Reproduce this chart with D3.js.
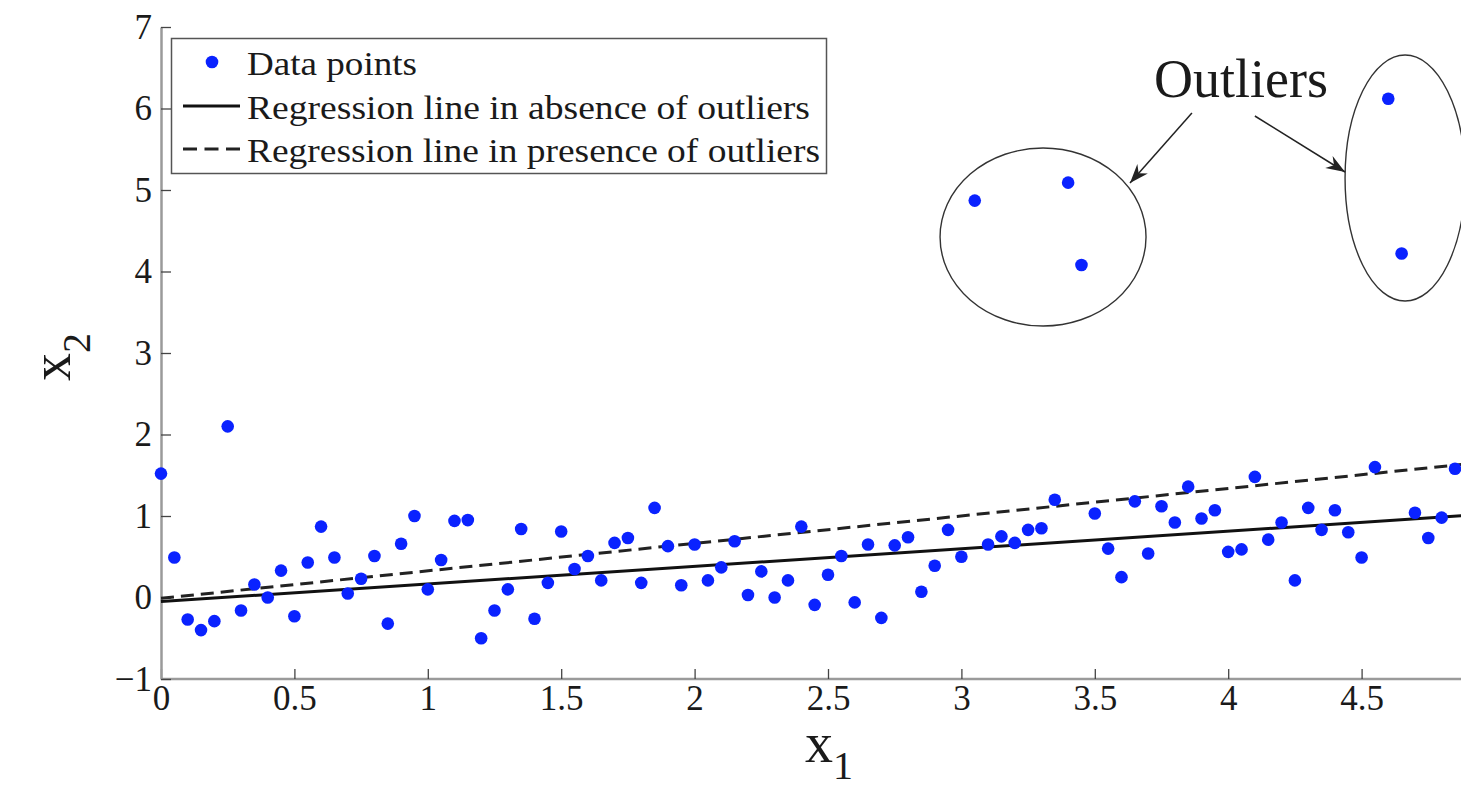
<!DOCTYPE html>
<html><head><meta charset="utf-8">
<script src="https://cdn.jsdelivr.net/npm/d3@7"></script>
<style>
html,body{margin:0;padding:0;background:#fff;overflow:hidden;}
text{font-family:"Liberation Serif","Times New Roman",serif;fill:#1a1a1a;}
</style></head>
<body><svg id="chart" width="1461" height="793"></svg>
<script>
// ---- data ----
const x1Values = [0.00,0.05,0.10,0.15,0.20,0.25,0.30,0.35,0.40,0.45,0.50,0.55,0.60,0.65,0.70,0.75,0.80,0.85,0.90,0.95,
  1.00,1.05,1.10,1.15,1.20,1.25,1.30,1.35,1.40,1.45,1.50,1.55,1.60,1.65,1.70,1.75,1.80,1.85,1.90,1.95,
  2.00,2.05,2.10,2.15,2.20,2.25,2.30,2.35,2.40,2.45,2.50,2.55,2.60,2.65,2.70,2.75,2.80,2.85,2.90,2.95,
  3.00,3.10,3.15,3.20,3.25,3.30,3.35,3.50,3.55,3.60,3.65,3.70,3.75,3.80,3.85,3.90,3.95,
  4.00,4.05,4.10,4.15,4.20,4.25,4.30,4.35,4.40,4.45,4.50,4.55,4.70,4.75,4.80,4.85];
const x2Values = [1.52,0.49,-0.27,-0.40,-0.29,2.10,-0.16,0.16,0.00,0.33,-0.23,0.43,0.87,0.49,0.05,0.23,0.51,-0.32,0.66,1.00,
  0.10,0.46,0.94,0.95,-0.50,-0.16,0.10,0.84,-0.26,0.18,0.81,0.35,0.51,0.21,0.67,0.73,0.18,1.10,0.63,0.15,
  0.65,0.21,0.37,0.69,0.03,0.32,0.00,0.21,0.87,-0.09,0.28,0.51,-0.06,0.65,-0.25,0.64,0.74,0.07,0.39,0.83,
  0.50,0.65,0.75,0.67,0.83,0.85,1.20,1.03,0.60,0.25,1.18,0.54,1.12,0.92,1.36,0.97,1.07,
  0.56,0.59,1.48,0.71,0.92,0.21,1.10,0.83,1.07,0.80,0.49,1.60,1.04,0.73,0.98,1.58];
const outlierX1 = [3.05,3.40,3.45,4.60,4.65];
const outlierX2 = [4.87,5.09,4.08,6.12,4.22];
// regression lines: [x1, x2] end points
const lineNoOutliers = [[0,-0.05],[5,1.03]];
const lineWithOutliers = [[0,-0.01],[5,1.675]];
const xTicks = [0,0.5,1,1.5,2,2.5,3,3.5,4,4.5];
const yTicks = [-1,0,1,2,3,4,5,6,7];
const legendLabels = ["Data points","Regression line in absence of outliers","Regression line in presence of outliers"];
const annotationText = "Outliers";
// annotations in data units
const ellipses = [{cx:3.306,cy:4.423,rx:0.386,ry:1.092},{cx:4.663,cy:5.147,rx:0.225,ry:1.509}];
const arrows = [{from:[3.864,5.945],to:[3.632,5.086]},{from:[4.100,5.908],to:[4.438,5.221]}];
const textPos = [4.048,6.141];

// ---- chart ----
const svg = d3.select("#chart");
const x = d3.scaleLinear().domain([0,5]).range([161,1495]);
const y = d3.scaleLinear().domain([-1,7]).range([679,27]);
const blue = "#0a22ff";

svg.append("defs").append("marker")
  .attr("id","ah").attr("viewBox","-20 -9 22 18").attr("refX",0).attr("refY",0)
  .attr("markerWidth",22).attr("markerHeight",18).attr("markerUnits","userSpaceOnUse")
  .attr("orient","auto")
  .append("path").attr("d","M0,0 L-19,-7 L-13,0 L-19,7 Z").attr("fill","#222");

// axes
const xAxis = d3.axisBottom(x).tickValues(xTicks).tickSizeInner(-10).tickSizeOuter(0).tickPadding(6)
  .tickFormat(d3.format("~g"));
const yAxis = d3.axisLeft(y).tickValues(yTicks).tickSizeInner(-10).tickSizeOuter(0).tickPadding(9)
  .tickFormat(d3.format("~g"));
const gx = svg.append("g").attr("transform","translate(0,679)").call(xAxis);
const gy = svg.append("g").attr("transform","translate(161,0)").call(yAxis);
[gx,gy].forEach(g=>{
  g.select(".domain").attr("stroke","#9a9a9a").attr("stroke-width",2.5);
  g.selectAll(".tick line").attr("stroke","#444").attr("stroke-width",1.3);
  g.selectAll(".tick text").style("font-family","Liberation Serif").style("font-size","35px").attr("fill","#1a1a1a");
});
// extend the x axis line to the right edge
gx.select(".domain").attr("d","M161,0H1495");

// regression lines
const line = d3.line().x(d=>x(d[0])).y(d=>y(d[1]));
svg.append("path").datum(lineNoOutliers).attr("d",line).attr("fill","none").attr("stroke","#111").attr("stroke-width",3);
svg.append("path").datum(lineWithOutliers).attr("d",line).attr("fill","none").attr("stroke","#222")
  .attr("stroke-width",3).attr("stroke-dasharray","13,7");

// data points
const pts = x1Values.map((v,i)=>[v,x2Values[i]]).concat(outlierX1.map((v,i)=>[v,outlierX2[i]]));
svg.append("g").selectAll("circle").data(pts).join("circle")
  .attr("cx",d=>x(d[0])).attr("cy",d=>y(d[1])).attr("r",6.3).attr("fill",blue);

// ellipses
svg.append("g").selectAll("ellipse").data(ellipses).join("ellipse")
  .attr("cx",d=>x(d.cx)).attr("cy",d=>y(d.cy))
  .attr("rx",d=>x(d.cx+d.rx)-x(d.cx)).attr("ry",d=>y(d.cy-d.ry)-y(d.cy))
  .attr("fill","none").attr("stroke","#333").attr("stroke-width",1.4);

// arrows
svg.append("g").selectAll("line").data(arrows).join("line")
  .attr("x1",d=>x(d.from[0])).attr("y1",d=>y(d.from[1]))
  .attr("x2",d=>x(d.to[0])).attr("y2",d=>y(d.to[1]))
  .attr("stroke","#222").attr("stroke-width",1.5).attr("marker-end","url(#ah)");

svg.append("text").attr("x",x(textPos[0])).attr("y",y(textPos[1])).attr("text-anchor","middle")
  .style("font-size","54px").text(annotationText);

// legend
const lg = svg.append("g");
lg.append("rect").attr("x",171.5).attr("y",38.5).attr("width",655).attr("height",135)
  .attr("fill","#fff").attr("stroke","#555").attr("stroke-width",1.5);
lg.append("circle").attr("cx",212).attr("cy",62).attr("r",6.3).attr("fill",blue);
lg.append("line").attr("x1",183).attr("x2",240).attr("y1",106).attr("y2",106).attr("stroke","#111").attr("stroke-width",3);
lg.append("line").attr("x1",183).attr("x2",240).attr("y1",149).attr("y2",149).attr("stroke","#222").attr("stroke-width",3).attr("stroke-dasharray","14,7.5");
const lgW = [170, 563, 573];
lg.selectAll("text.lg").data(legendLabels).join("text").attr("class","lg")
  .attr("x",247).attr("y",(d,i)=>75+i*43.5)
  .attr("textLength",(d,i)=>lgW[i]).attr("lengthAdjust","spacingAndGlyphs")
  .style("font-size","33px").text(d=>d);

// axis labels
const xl = svg.append("text").attr("x",805).attr("y",762).style("font-size","56px");
xl.append("tspan").text("x");
xl.append("tspan").attr("dy",17).style("font-size","40px").text("1");
const yl = svg.append("text").attr("transform","translate(70,381) rotate(-90)").style("font-size","56px");
yl.append("tspan").text("x");
yl.append("tspan").attr("dy",20).style("font-size","40px").text("2");
</script></body></html>
